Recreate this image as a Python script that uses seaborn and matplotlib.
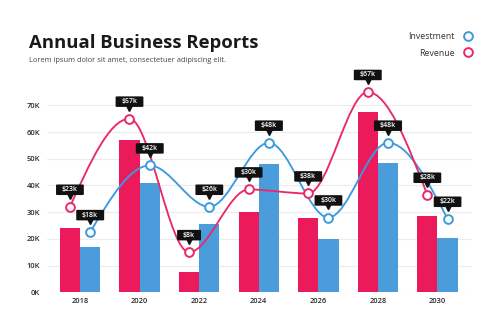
import numpy as np
import pandas as pd
import matplotlib
matplotlib.use('Agg')
import matplotlib.pyplot as plt
import seaborn as sns
from matplotlib.path import Path
from matplotlib.patches import PathPatch
from matplotlib.transforms import offset_copy
from matplotlib.lines import Line2D

# ---------------- data ----------------
years = ['2018', '2020', '2022', '2024', '2026', '2028', '2030']
revenue_bars = [24, 57, 7.5, 30, 28, 67.5, 28.5]
investment_bars = [17, 41, 25.5, 48, 20, 48.5, 20.5]
revenue_line = [32, 65, 15, 38.5, 37, 75, 36.5]
investment_line = [22.5, 47.5, 32, 56, 28, 56, 27.5]
revenue_labels = ['$23k', '$57k', '$8k', '$30k', '$38k', '$67k', '$28k']
investment_labels = ['$18k', '$42k', '$26k', '$48k', '$30k', '$48k', '$22k']
y_ticks = [0, 10, 20, 30, 40, 50, 60, 70]
y_tick_labels = ['0K', '10K', '20K', '30K', '40K', '50K', '60K', '70K']
series_names = ['Revenue', 'Investment']
legend_order = ['Investment', 'Revenue']

RED = '#EB1B5B'
BLUE = '#4A9CDA'
RED_LINE = '#EA2A66'
BLUE_LINE = '#3C9BDE'

sns.set_theme(style='white')
plt.rcParams['font.family'] = ['Open Sans', 'DejaVu Sans']

fig = plt.figure(figsize=(5, 3.34), dpi=100)
ax = fig.add_axes([0.0934, 0.1249, 0.85, 0.6395])

df = pd.DataFrame({
    'year': years * 2,
    'value': revenue_bars + investment_bars,
    'series': [series_names[0]] * len(years) + [series_names[1]] * len(years),
})
sns.barplot(data=df, x='year', y='value', hue='series', hue_order=series_names,
            palette={'Revenue': RED, 'Investment': BLUE}, width=0.68,
            saturation=1, ax=ax, legend=False, linewidth=0, zorder=2)

ax.set_xlim(-0.56, 6.575)
ax.set_ylim(0, 80)
ax.set_yticks(y_ticks)
ax.set_yticklabels(y_tick_labels)
ax.set_xlabel('')
ax.set_ylabel('')
ax.yaxis.grid(True, color='#ECECEC', lw=0.8)
ax.xaxis.grid(False)
ax.set_axisbelow(True)
sns.despine(ax=ax, left=True, bottom=True)
ax.tick_params(axis='both', length=0, labelsize=5.4, labelcolor='#2a2a2a')
ax.tick_params(axis='y', pad=4.8)
ax.tick_params(axis='x', pad=4.3)
for lab in ax.get_xticklabels() + ax.get_yticklabels():
    lab.set_fontweight('semibold')


def monotone_path(xs, ys):
    xs = np.asarray(xs, float)
    ys = np.asarray(ys, float)
    n = len(xs)
    h = np.diff(xs)
    s = np.diff(ys) / h
    t = np.zeros(n)
    for i in range(1, n - 1):
        p = (s[i - 1] * h[i] + s[i] * h[i - 1]) / (h[i - 1] + h[i])
        t[i] = (np.sign(s[i - 1]) + np.sign(s[i])) * min(abs(s[i - 1]), abs(s[i]), 0.5 * abs(p))
    t[0] = (3 * s[0] - t[1]) / 2
    t[-1] = (3 * s[-1] - t[-2]) / 2
    verts = [(xs[0], ys[0])]
    codes = [Path.MOVETO]
    for i in range(n - 1):
        dx = h[i] / 3
        verts += [(xs[i] + dx, ys[i] + dx * t[i]),
                  (xs[i + 1] - dx, ys[i + 1] - dx * t[i + 1]),
                  (xs[i + 1], ys[i + 1])]
        codes += [Path.CURVE4] * 3
    return Path(verts, codes)


pos = np.arange(len(years))
off = 0.17
series = [
    (pos + off, investment_line, investment_labels, BLUE_LINE),
    (pos - off, revenue_line, revenue_labels, RED_LINE),
]
box_off = offset_copy(ax.transData, fig=fig, x=0, y=8, units='points')
for xs, ys, labels, col in series:
    ax.add_patch(PathPatch(monotone_path(xs, ys), fill=False, ec=col, lw=1.35, zorder=4))
    ax.plot(xs, ys, ls='none', marker='o', ms=6.3, mfc='white', mec=col, mew=1.4, zorder=5)
for xs, ys, labels, col in series:
    for x, y, lab in zip(xs, ys, labels):
        ax.annotate(lab, (x, y), xytext=(0, 12.3), textcoords='offset points',
                    ha='center', va='center', fontsize=5, color='white', fontweight='semibold',
                    bbox=dict(boxstyle='round,pad=0.85,rounding_size=0.25', fc='#111111',
                              ec='none', mutation_aspect=0.3), zorder=7)
        ax.plot([x], [y], marker='v', color='#111111', ms=4, transform=box_off,
                zorder=6, clip_on=False)

# title & subtitle
fig.text(29.3 / 500, 1 - 47.7 / 334, 'Annual Business Reports', ha='left', va='baseline',
         fontsize=13.3, fontweight='bold', color='#1a1a1a')
fig.text(29.3 / 500, 1 - 61 / 334, 'Lorem ipsum dolor sit amet, consectetuer adipiscing elit.',
         ha='left', va='center', fontsize=5.45, color='#444444')

# legend
colors = {'Investment': BLUE_LINE, 'Revenue': RED_LINE}
handles = [Line2D([], [], ls='none', marker='o', ms=6.3, mfc='white', mec=colors[n], mew=1.4)
           for n in legend_order]
fig.legend(handles, legend_order, loc='upper right', bbox_to_anchor=(0.944, 0.904),
           frameon=False, markerfirst=False, fontsize=6.3, handlelength=1, handletextpad=0.95,
           borderpad=0, borderaxespad=0, labelspacing=0.85, labelcolor='#333333')

fig.savefig('out.png', dpi=100, facecolor='white')
